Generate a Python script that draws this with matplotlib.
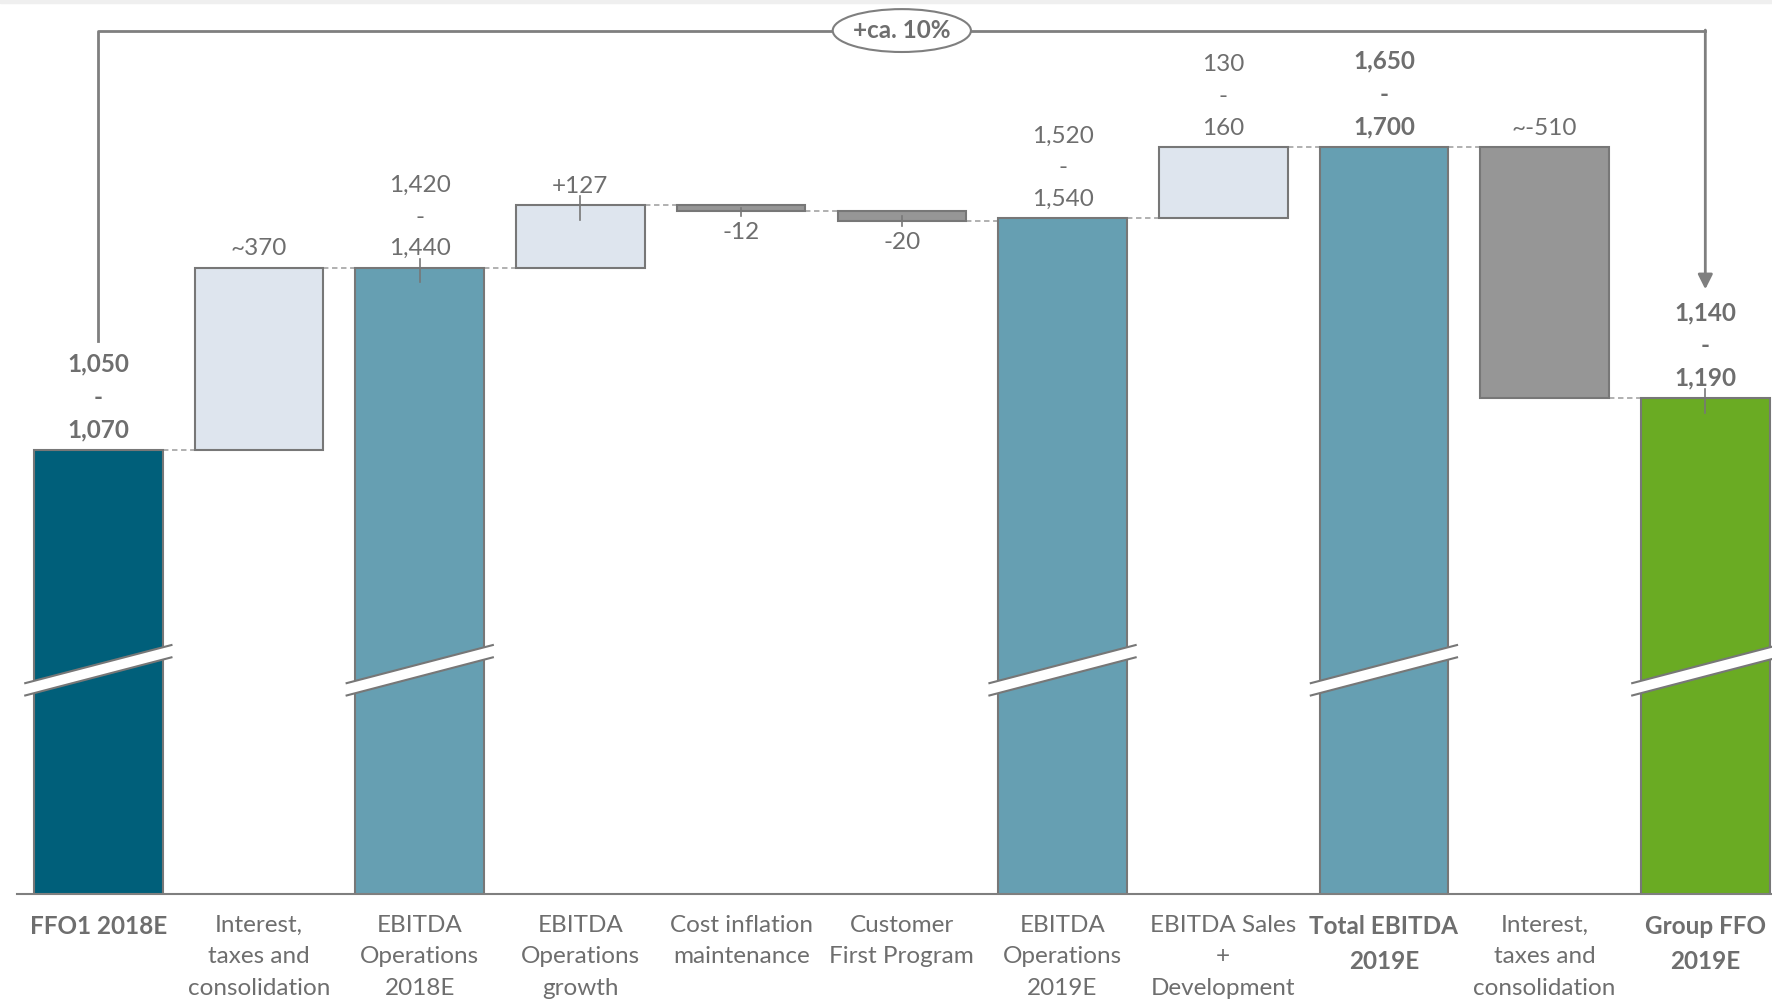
import matplotlib
matplotlib.use("Agg")
import matplotlib.pyplot as plt
from matplotlib.patches import Ellipse, Polygon, Rectangle

plt.rcParams['font.family'] = ['Lato', 'DejaVu Sans']

# data (bars drawn at the middle of each range)
categories = ["FFO1 2018E", "Interest,\ntaxes and\nconsolidation", "EBITDA\nOperations\n2018E",
              "EBITDA\nOperations\ngrowth", "Cost inflation\nmaintenance", "Customer\nFirst Program",
              "EBITDA\nOperations\n2019E", "EBITDA Sales\n+\nDevelopment", "Total EBITDA\n2019E",
              "Interest,\ntaxes and\nconsolidation", "Group FFO\n2019E"]
kinds = ["total", "delta", "total", "delta", "delta", "delta", "total", "delta", "total", "delta", "total"]
values = [1060, 370, 1430, 127, -12, -20, 1530, 145, 1675, -510, 1165]
value_labels = ["1,050\n-\n1,070", "~370", "1,420\n-\n1,440", "+127", "-12", "-20",
                "1,520\n-\n1,540", "130\n-\n160", "1,650\n-\n1,700", "~-510", "1,140\n-\n1,190"]
bold_items = [0, 8, 10]
range_tick_items = [2, 3, 4, 5, 10]
growth_label = "+ca. 10%"

colors = ["#005f7a", "#dee5ee", "#669fb2", "#dee5ee", "#969696", "#969696",
          "#669fb2", "#dee5ee", "#669fb2", "#969696", "#6aab23"]
edge = "#777777"
txt = "#6e6e6e"
fs = 17.5

fig = plt.figure(figsize=(17.72, 10.01), dpi=100)
fig.patches.append(Rectangle((0, 1 - 3 / 1001), 1, 3 / 1001, transform=fig.transFigure,
                             color="#efefef", zorder=0))
ax = fig.add_axes([0, 0.1069, 1, 0.8931])
ax.set_xlim(-0.612, 10.415)
ymin = 159
ax.set_ylim(ymin, 1973)
ax.axis("off")

width = 0.8
level = 0
tops = []
bottoms = []
levels = []
for i, (k, v) in enumerate(zip(kinds, values)):
    if k == "total":
        b, h = 0, v
        level = v
    else:
        b, h = min(level, level + v), abs(v)
        level = level + v
    bottoms.append(b)
    tops.append(b + h)
    levels.append(level)
    ax.bar(i, h, bottom=b, width=width, color=colors[i], edgecolor=edge, linewidth=1.5, zorder=2)

# connectors
for i in range(len(values) - 1):
    ax.plot([i + width / 2, i + 1 - width / 2], [levels[i], levels[i]], color="#aaaaaa",
            lw=1.3, ls=(0, (3, 2)), zorder=1)

# range ticks
for i in range_tick_items:
    if kinds[i] == "delta" and values[i] < 0:
        ax.plot([i, i], [(tops[i] + bottoms[i]) / 2, bottoms[i] - 10], color=edge, lw=1.2, zorder=3)
    else:
        ax.plot([i, i], [tops[i] + 18, tops[i] - 30], color=edge, lw=1.2, zorder=3)

# axis break marks on total bars
slope, thick, brk = 85, 25, 613
for i, k in enumerate(kinds):
    if k != "total":
        continue
    x0, x1 = i - 0.455, i + 0.455
    y0, y1 = brk - slope * 0.455, brk + slope * 0.455
    ax.add_patch(Polygon([(x0, y0 - thick / 2), (x1, y1 - thick / 2), (x1, y1 + thick / 2),
                          (x0, y0 + thick / 2)], closed=True, fc="white", ec="none", zorder=4))
    ax.plot([x0, x1], [y0 - thick / 2, y1 - thick / 2], color=edge, lw=1.5, zorder=5)
    ax.plot([x0, x1], [y0 + thick / 2, y1 + thick / 2], color=edge, lw=1.5, zorder=5)

# baseline
ax.plot([-0.506, 10.415], [ymin, ymin], color="#7f7f7f", lw=1.5, clip_on=False, zorder=6)

# value labels
for i, lab in enumerate(value_labels):
    w = "bold" if i in bold_items else "normal"
    ls = 1.52 if i in bold_items else 1.62
    if kinds[i] == "delta" and values[i] < 0 and abs(values[i]) < 100:
        ax.annotate(lab, (i, bottoms[i]), xytext=(0, -8), textcoords="offset points",
                    ha="center", va="top", fontsize=fs, color=txt, fontweight=w, linespacing=ls)
    else:
        ax.annotate(lab, (i, tops[i]), xytext=(0, 6), textcoords="offset points",
                    ha="center", va="bottom", fontsize=fs, color=txt, fontweight=w, linespacing=ls)

# category labels
for i, cat in enumerate(categories):
    w = "bold" if i in bold_items else "normal"
    ax.annotate(cat, (i, ymin), xytext=(0, -15), textcoords="offset points", ha="center",
                va="top", fontsize=fs, color=txt, fontweight=w, linespacing=1.62,
                annotation_clip=False)

# growth bracket
top_y = 1911
ax.plot([0, 0, 10], [1281, top_y, top_y], color="#7f7f7f", lw=2, clip_on=False, zorder=3)
ax.annotate("", xy=(10, 1386), xytext=(10, top_y + 1),
            arrowprops=dict(arrowstyle="-|>", color="#7f7f7f", lw=2, mutation_scale=22,
                            shrinkA=0, shrinkB=0), zorder=3)
ax.add_patch(Ellipse((5, top_y), 0.86, 87, fc="white", ec="#7f7f7f", lw=1.5, zorder=7,
                     clip_on=False))
ax.text(5, top_y, growth_label, ha="center", va="center", fontsize=fs, fontweight="bold",
        color=txt, zorder=8)

fig.savefig("out.png", dpi=100)
